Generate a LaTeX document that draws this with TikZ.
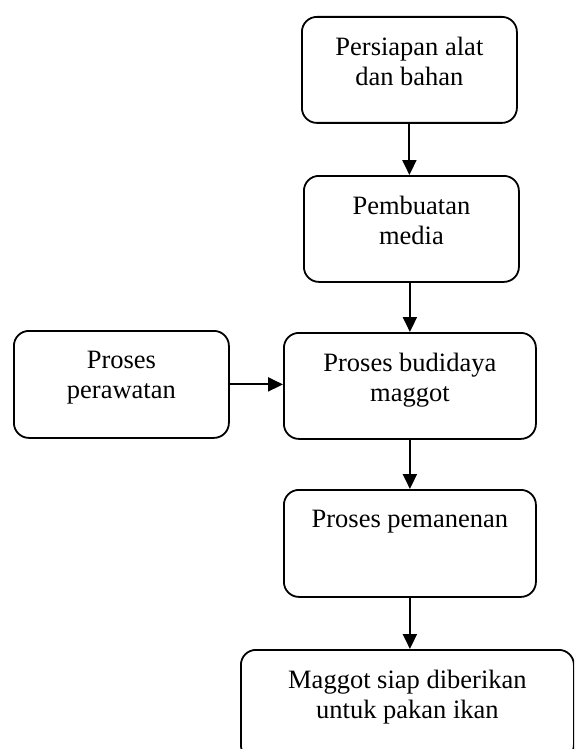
\documentclass[tikz,border=0pt]{standalone}
\usepackage{fontspec}
\setmainfont{Liberation Serif}
\usetikzlibrary{arrows.meta}
\usetikzlibrary{positioning}

\tikzset{
  stepbox/.style={draw, line width=1.8pt, rounded corners=15pt, anchor=north west, inner sep=0pt},
  steptext/.style={align=center, inner sep=0pt, outer sep=0pt, font=\fontsize{26.5}{30}\selectfont, below=21pt of #1.north},
  flow/.style={-{Triangle[width=14pt,length=15pt]}, line width=2pt}
}

\begin{document}
\begin{tikzpicture}[x=1pt,y=-1pt]
\useasboundingbox (0,0) rectangle (574,749);
\clip (0,0) rectangle (574,749);

\node [stepbox, minimum width=215pt, minimum height=106pt] (persiapan) at (301,16) {};
\node [stepbox, minimum width=215pt, minimum height=106pt] (pembuatan) at (303,175) {};
\node [stepbox, minimum width=252pt, minimum height=106pt] (budidaya) at (283,332) {};
\node [stepbox, minimum width=215pt, minimum height=107pt] (perawatan) at (13,330) {};
\node [stepbox, minimum width=252pt, minimum height=107pt] (panen) at (283,489) {};
\node [stepbox, minimum width=333pt, minimum height=110pt] (siap) at (240,649) {};

\node [steptext=persiapan] (tpersiapan) {Persiapan alat\\dan bahan};
\node [steptext=pembuatan] (tpembuatan) {Pembuatan\\media};
\node [steptext=budidaya] (tbudidaya) {Proses budidaya\\maggot};
\node [steptext=perawatan] (tperawatan) {Proses\\perawatan};
\node [steptext=panen] (tpanen) {Proses pemanenan};
\node [steptext=siap] (tsiap) {Maggot siap diberikan\\untuk pakan ikan};

\draw [flow] (persiapan.south) -- (persiapan.south |- pembuatan.north);
\draw [flow] (pembuatan.south -| budidaya.north) -- (budidaya.north);
\draw [flow] (perawatan.east) -- (perawatan.east -| budidaya.west);
\draw [flow] (budidaya.south) -- (panen.north);
\draw [flow] (panen.south) -- (panen.south |- siap.north);

\end{tikzpicture}
\end{document}
